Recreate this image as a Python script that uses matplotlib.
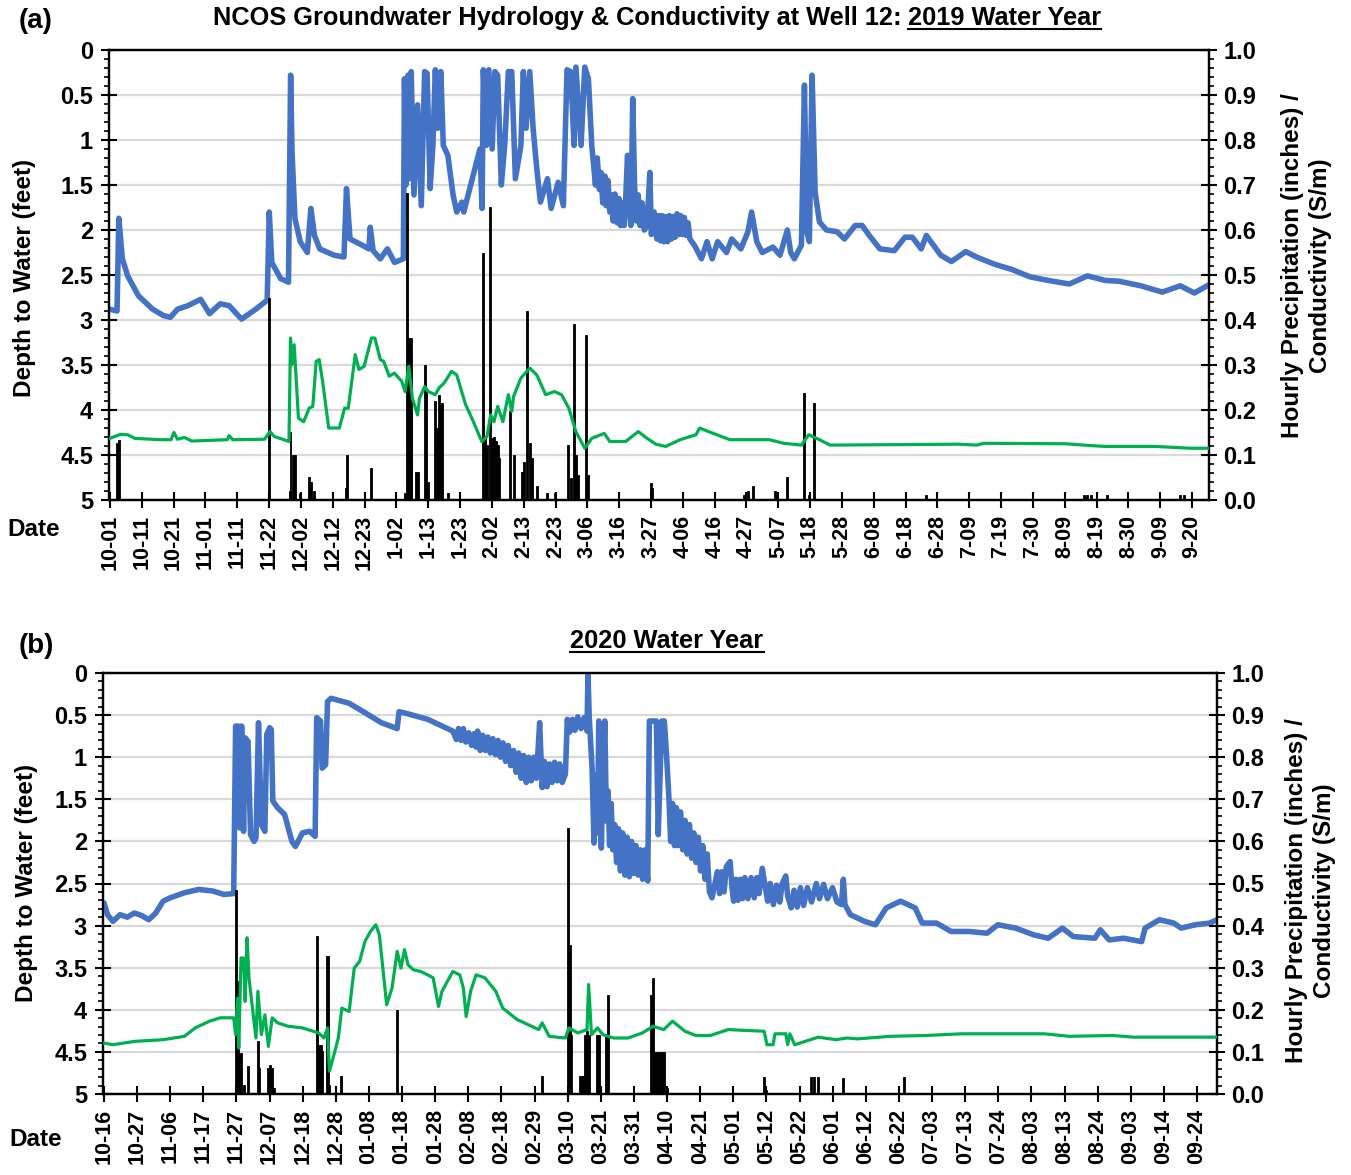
import matplotlib
matplotlib.use("Agg")
import matplotlib.pyplot as plt
from matplotlib.lines import Line2D
from matplotlib.ticker import MultipleLocator, FuncFormatter, FormatStrFormatter

plt.rcParams['font.family'] = ['Liberation Sans', 'DejaVu Sans']
plt.rcParams['font.weight'] = 'bold'

# ---------------- Panel (a): 2019 water year (days since 10-01-2018) ----------------
a_tick_labels = ["10-01", "10-11", "10-21", "11-01", "11-11", "11-22", "12-02", "12-12",
                 "12-23", "1-02", "1-13", "1-23", "2-02", "2-13", "2-23", "3-06", "3-16",
                 "3-27", "4-06", "4-16", "4-27", "5-07", "5-18", "5-28", "6-08", "6-18",
                 "6-28", "7-09", "7-19", "7-30", "8-09", "8-19", "8-30", "9-09", "9-20"]

a_depth_day = [0.0, 2.33, 2.91, 3.49, 4.07, 5.82, 9.31, 13.97, 17.46, 19.79, 22.12, 25.6, 29.69,
               32.6, 36.09, 39.0, 43.07, 47.73, 51.46, 52.15, 52.97, 55.88, 58.44, 59.14, 59.6,
               60.54, 62.28, 64.61, 65.77, 66.94, 68.68, 73.34, 76.6, 77.42, 78.58, 82.65, 84.75,
               85.2, 86.15, 88.48, 90.8, 93.13, 96.04, 96.39, 96.86, 97.56, 98.0, 98.6, 99.5,
               100.7, 101.9, 103.0, 103.8, 104.8, 105.7, 106.5, 107.3, 108.3, 109.1, 110.6,
               112.3, 113.5, 115.2, 115.8, 121.1, 121.8, 122.2, 123.2, 124.0, 125.1, 126.0,
               126.9, 128.1, 129.2, 130.4, 131.5, 132.7, 134.5, 135.3, 136.2, 137.4, 138.5,
               139.7, 140.9, 143.2, 144.4, 146.7, 148.4, 149.6, 150.8, 151.9, 152.5, 154.2,
               155.4, 156.6, 157.7, 158.9, 159.5, 160.2, 160.7, 161.3, 162.0, 162.4, 163.0,
               163.6, 164.1, 164.7, 165.3, 166.0, 166.6, 167.1, 167.7, 168.3, 168.8, 169.4,
               170.0, 170.5, 171.1, 171.7, 172.3, 172.9, 173.5, 174.2, 174.9, 175.8, 176.7,
               177.2, 178.1, 179.0, 179.6, 180.2, 180.7, 181.3, 181.9, 182.5, 183.1, 183.8,
               184.4, 185.0, 185.6, 186.2, 186.8, 187.4, 188.0, 188.6, 189.2, 189.8,
               191.3, 193.6, 195.4, 197.1, 198.9, 201.8, 203.5, 206.5, 208.8,
               210.0, 211.7, 213.5, 217.0, 219.3, 221.7, 222.8, 224.0, 226.3, 227.3, 228.1,
               228.9, 229.8, 230.8, 232.2, 234.5, 238.0, 240.4, 243.9, 246.2, 248.5, 252.0,
               256.7, 260.2, 262.6, 265.5, 267.2, 271.9, 275.4, 280.1, 283.6, 289.5, 295.3,
               301.1, 307.0, 314.0, 319.9, 325.7, 330.4, 337.4, 344.4, 350.3, 354.9, 359.6]
a_depth_ft = [2.88, 2.90, 1.87, 2.10, 2.32, 2.51, 2.73, 2.88, 2.95, 2.97, 2.88, 2.84, 2.77,
              2.93, 2.82, 2.84, 2.99, 2.88, 2.78, 1.80, 2.36, 2.54, 2.58, 0.28, 1.13,
              1.87, 2.13, 2.25, 1.76, 2.06, 2.21, 2.28, 2.30, 1.54, 2.10, 2.17, 2.21,
              1.97, 2.23, 2.32, 2.21, 2.36, 2.32, 0.32, 1.50, 0.28, 1.43, 0.24, 1.61,
              0.61, 1.73, 0.24, 0.26, 1.54, 1.06, 0.22, 0.87, 0.24, 1.06, 1.17,
              1.61, 1.80, 1.69, 1.80, 1.10, 1.76, 0.22, 1.06, 0.22, 1.10, 0.24,
              0.28, 1.50, 1.06, 0.24, 0.24, 1.43, 1.06, 0.24, 0.87, 0.24, 0.87,
              1.32, 1.69, 1.43, 1.76, 1.47, 1.73, 0.22, 0.24, 1.06, 0.19, 1.06,
              0.19, 0.32, 1.06, 1.50, 1.20, 1.55, 1.36, 1.70, 1.40, 1.73, 1.45,
              1.80, 1.61, 1.90, 1.60, 1.92, 1.65, 1.95, 1.70, 1.95, 1.65, 1.17,
              1.73, 1.95, 0.54, 1.50, 1.90, 1.61, 1.95, 1.70, 2.00, 1.95, 1.36,
              2.05, 1.80, 2.10, 1.84, 2.12, 1.84, 2.13, 1.85, 2.13, 1.84, 2.10,
              1.85, 2.08, 1.82, 2.05, 1.84, 2.05, 1.86, 2.06, 1.92, 2.10,
              2.17, 2.32, 2.13, 2.32, 2.13, 2.25, 2.10, 2.21, 2.02,
              1.80, 2.13, 2.25, 2.19, 2.28, 2.00, 2.25, 2.32, 2.17, 0.39, 2.02,
              2.13, 0.28, 1.58, 1.91, 2.00, 2.02, 2.10, 1.95, 1.95, 2.06, 2.21,
              2.23, 2.08, 2.08, 2.21, 2.06, 2.28, 2.35, 2.24, 2.30, 2.38, 2.44,
              2.52, 2.56, 2.60, 2.51, 2.56, 2.57, 2.62, 2.69, 2.62, 2.70, 2.61]

a_cond_day = [0.0, 3.49, 5.82, 8.15, 16.3, 20.0, 20.95, 22.1, 24.4, 26.8, 38.4, 39.0, 40.2,
              50.6, 52.4, 53.8, 57.0, 58.6, 59.1, 59.6, 60.3, 61.7, 63.4, 65.2, 66.4, 67.5,
              68.5, 69.6, 71.6, 75.1, 76.8, 78.0, 80.3, 81.5, 83.2, 85.6, 86.7, 88.5, 89.6,
              91.4, 93.1, 95.5, 96.6, 97.8, 99.0, 100.7, 101.3, 103.0, 104.2, 106.5, 107.7,
              109.4, 111.8, 113.5, 116.4, 118.7, 121.7, 123.4, 124.6, 125.7, 126.9, 128.6,
              130.4, 131.5, 132.1, 134.5, 137.4, 139.7, 142.6, 145.5, 147.8, 150.2, 152.5,
              155.4, 157.7, 161.8, 163.6, 168.8, 172.9, 175.8, 178.7, 181.9, 186.6, 191.8,
              193.0, 195.9, 202.9, 215.8, 220.5, 226.3, 228.7, 232.2, 235.7, 277.8, 283.6,
              286.0, 312.8, 318.7, 325.7, 342.1, 353.8, 359.6]
a_cond_val = [0.137, 0.146, 0.145, 0.137, 0.134, 0.134, 0.150, 0.135, 0.139, 0.131, 0.134,
              0.143, 0.134, 0.135, 0.152, 0.141, 0.134, 0.130, 0.360, 0.301, 0.345, 0.182,
              0.174, 0.204, 0.208, 0.308, 0.312, 0.264, 0.160, 0.160, 0.204, 0.204, 0.323,
              0.290, 0.297, 0.360, 0.360, 0.312, 0.308, 0.275, 0.282, 0.264, 0.241, 0.297,
              0.226, 0.189, 0.226, 0.252, 0.241, 0.234, 0.249, 0.260, 0.286, 0.278, 0.212,
              0.178, 0.130, 0.141, 0.189, 0.174, 0.208, 0.174, 0.234, 0.197, 0.230, 0.271,
              0.293, 0.278, 0.234, 0.241, 0.234, 0.204, 0.152, 0.115, 0.137, 0.148, 0.130,
              0.130, 0.152, 0.137, 0.124, 0.119, 0.134, 0.145, 0.160, 0.152, 0.134, 0.134,
              0.126, 0.122, 0.145, 0.134, 0.122, 0.124, 0.122, 0.126, 0.125, 0.122, 0.119,
              0.119, 0.115, 0.115]

a_rain_day = [2.33, 3.03, 52.15, 58.8, 59.1, 59.8, 60.5, 62.3, 65.2, 65.9, 66.9, 77.1, 77.6,
              85.6, 96.6, 97.2, 97.8, 98.4, 98.7, 100.1, 100.7, 103.0, 103.5, 104.2, 106.5,
              107.1, 107.7, 108.3, 108.8, 110.6, 122.2, 122.8, 123.4, 124.3, 125.1, 125.7,
              126.3, 126.9, 127.5, 131.0, 132.1, 135.0, 135.6, 136.6, 137.4, 138.0, 139.7,
              143.2, 145.5, 149.9, 150.8, 151.9, 152.5, 153.1, 155.8, 156.6, 177.0, 177.5,
              207.6, 208.8, 210.5, 217.6, 218.1, 221.7, 227.3, 228.7, 230.4, 267.2, 318.7,
              319.9, 321.0, 326.3, 350.3, 351.4]
a_rain_in = [0.126, 0.134, 0.449, 0.019, 0.152, 0.100, 0.100, 0.015, 0.052, 0.041, 0.019,
             0.026, 0.100, 0.071, 0.015, 0.683, 0.360, 0.360, 0.226, 0.063, 0.063, 0.301,
             0.249, 0.041, 0.219, 0.160, 0.234, 0.212, 0.215, 0.015, 0.549, 0.137, 0.122,
             0.650, 0.137, 0.141, 0.130, 0.122, 0.093, 0.197, 0.100, 0.063, 0.085, 0.419,
             0.126, 0.093, 0.030, 0.015, 0.015, 0.122, 0.048, 0.390, 0.100, 0.056, 0.367,
             0.056, 0.037, 0.026, 0.011, 0.019, 0.030, 0.019, 0.015, 0.052, 0.238, 0.011,
             0.215, 0.011, 0.011, 0.010, 0.010, 0.010, 0.010, 0.010]

# ---------------- Panel (b): 2020 water year (days since 10-16-2019) ----------------
b_tick_labels = ["10-16", "10-27", "11-06", "11-17", "11-27", "12-07", "12-18", "12-28",
                 "01-08", "01-18", "01-28", "02-08", "02-18", "02-29", "03-10", "03-21",
                 "03-31", "04-10", "04-21", "05-01", "05-12", "05-22", "06-01", "06-12",
                 "06-22", "07-03", "07-13", "07-24", "08-03", "08-13", "08-24", "09-03",
                 "09-14", "09-24"]

b_depth_day = [0.0, 1.12, 2.81, 5.06, 7.31, 9.56, 11.8, 14.1, 16.3, 18.6, 20.8, 25.3, 29.8,
               34.3, 37.7, 40.8, 41.4, 42.2, 42.7, 43.3, 43.9, 44.4, 45.3, 46.1, 47.2, 47.8,
               48.6, 49.5, 50.6, 51.2, 52.1, 52.6, 53.1, 54.6, 56.8, 59.1, 60.2, 62.4, 64.7,
               66.4, 66.9, 68.1, 68.6, 69.7, 70.3, 71.4, 77.1, 81.6, 87.2, 92.2, 92.8, 95.1,
               101.8, 106.3, 109.7, 110.8, 111.5, 112.3, 113.0, 113.8, 114.7, 115.6, 116.4,
               117.0, 117.5, 118.3, 119.1, 119.9, 120.7, 121.5, 122.3, 123.1, 123.9, 124.7,
               125.5, 126.3, 127.1, 127.9, 128.8, 129.6, 130.4, 131.2, 132.0, 132.8, 133.6,
               134.4, 135.2, 136.0, 137.0, 137.8, 138.5, 139.3, 140.1, 140.9, 141.7, 142.5,
               143.3, 144.1, 145.1, 145.7, 146.5, 147.3, 148.1, 149.0, 150.0, 151.0, 151.9,
               152.2, 152.6, 153.5, 154.1, 154.7, 155.2, 155.6, 156.0, 156.4, 156.9, 157.5,
               158.0, 158.5, 159.0, 159.5, 160.0, 160.6, 161.2, 161.8, 162.4, 163.1, 163.8,
               164.5, 165.2, 165.9, 166.6, 167.3, 168.0, 168.7, 169.4, 170.1, 171.0, 171.5,
               173.7, 174.3, 175.4, 176.2, 176.9, 177.7, 178.2, 178.8, 179.4, 180.0, 180.6,
               181.3, 182.0, 182.7, 183.4, 184.1, 184.8, 185.5, 186.2, 186.9, 187.6, 188.3,
               189.0, 189.7, 190.4, 191.2, 192.9, 193.6, 194.3, 195.0, 195.7, 196.9, 197.5,
               198.0, 198.7, 199.4, 200.1, 200.8, 201.5, 202.5, 203.5, 204.5, 205.3, 206.0,
               207.0, 208.7, 209.5, 210.5, 211.5, 212.5, 213.3, 214.4, 215.0, 216.1, 217.0,
               218.0, 219.0, 220.0, 221.2, 222.5, 224.0, 225.0, 226.3, 227.5, 229.1, 230.5,
               231.9, 232.5, 233.0, 234.7, 239.2, 242.6, 246.0, 250.5, 255.1, 257.3, 261.8,
               266.4, 272.0, 277.7, 281.1, 286.7, 292.4, 296.9, 301.4, 304.8, 311.6, 313.3,
               316.1, 320.6, 326.3, 327.4, 331.9, 336.4, 338.7, 343.2, 347.7, 350.0]
b_depth_ft = [2.73, 2.87, 2.95, 2.87, 2.90, 2.85, 2.88, 2.93, 2.85, 2.71, 2.67, 2.61, 2.57,
              2.59, 2.63, 2.62, 0.63, 0.63, 1.84, 0.63, 1.88, 0.77, 0.81, 1.92, 2.00, 1.96,
              0.59, 1.80, 1.88, 0.73, 0.65, 0.67, 1.52, 1.60, 1.68, 2.00, 2.06, 1.90, 1.88,
              1.94, 0.53, 0.57, 1.13, 1.09, 0.34, 0.30, 0.36, 0.46, 0.59, 0.66, 0.46, 0.48,
              0.55, 0.63, 0.69, 0.79, 0.66, 0.80, 0.66, 0.82, 0.71, 0.86, 0.72,
              0.88, 0.69, 0.92, 0.74, 0.92, 0.76, 0.95, 0.78, 0.97, 0.80, 1.00,
              0.83, 1.05, 0.86, 1.10, 0.92, 1.18, 0.95, 1.25, 0.98, 1.30, 1.00,
              1.28, 1.00, 1.25, 0.59, 1.36, 1.05, 1.35, 1.08, 1.30, 1.06, 1.28,
              1.08, 1.30, 1.20, 0.55, 0.70, 0.55, 0.68, 0.52, 0.66, 0.53, 0.69,
              0.00, 0.53, 1.13, 2.02, 1.21, 1.90, 0.57, 1.50, 2.08, 1.20, 0.57,
              1.76, 1.40, 2.05, 1.55, 2.10, 1.80, 2.25, 1.85, 2.35, 1.90, 2.40,
              1.95, 2.42, 2.00, 2.38, 2.05, 2.40, 2.10, 2.45, 2.10, 2.47, 0.57,
              0.57, 1.92, 0.57, 0.57, 0.97, 1.52, 2.00, 1.55, 2.05, 1.60, 2.05,
              1.65, 2.10, 1.75, 2.15, 1.80, 2.20, 1.90, 2.25, 1.95, 2.35, 2.05,
              2.45, 2.15, 2.60, 2.67, 2.36, 2.62, 2.36, 2.60, 2.30, 2.24, 2.55,
              2.71, 2.45, 2.70, 2.45, 2.68, 2.43, 2.68, 2.43, 2.67, 2.43, 2.62,
              2.32, 2.71, 2.50, 2.75, 2.52, 2.72, 2.50, 2.41, 2.65, 2.79, 2.58,
              2.78, 2.55, 2.76, 2.55, 2.72, 2.50, 2.68, 2.51, 2.68, 2.55, 2.72,
              2.75, 2.45, 2.75, 2.87, 2.95, 2.99, 2.79, 2.71, 2.79, 2.97, 2.97,
              3.07, 3.07, 3.09, 2.99, 3.03, 3.11, 3.15, 3.03, 3.13, 3.15, 3.05,
              3.17, 3.15, 3.19, 3.03, 2.93, 2.97, 3.03, 2.99, 2.97, 2.93]

b_cond_day = [0.0, 2.8, 9.6, 18.6, 25.3, 28.7, 33.2, 36.6, 40.8, 41.4, 42.0, 42.4, 43.1, 43.9,
              44.4, 45.0, 45.6, 46.7, 47.8, 48.4, 49.5, 50.6, 51.7, 52.9, 54.6, 57.9, 62.4,
              65.8, 67.5, 69.2, 70.3, 70.9, 72.6, 73.7, 74.8, 77.1, 78.7, 80.4, 82.1, 83.8,
              85.5, 86.6, 87.7, 88.9, 90.6, 92.2, 93.4, 94.5, 95.6, 97.3, 99.6, 101.8, 103.5,
              105.2, 106.3, 109.7, 111.9, 113.0, 113.9, 115.3, 117.0, 119.8, 123.2, 125.4,
              129.9, 136.7, 137.8, 140.0, 145.1, 146.2, 149.0, 151.9, 152.4, 153.3, 155.2,
              156.9, 160.3, 164.8, 169.3, 172.7, 176.0, 178.8, 182.7, 186.1, 190.7, 196.3,
              207.6, 208.5, 210.4, 211.0, 214.4, 215.0, 215.7, 217.2, 224.6, 230.2, 233.6,
              237.0, 247.2, 258.5, 269.8, 295.7, 303.6, 317.2, 323.9, 350.0]
b_cond_val = [0.121, 0.117, 0.125, 0.129, 0.137, 0.157, 0.173, 0.181, 0.181, 0.141, 0.228,
              0.109, 0.323, 0.323, 0.220, 0.371, 0.276, 0.204, 0.133, 0.244, 0.141, 0.188,
              0.113, 0.181, 0.169, 0.161, 0.157, 0.149, 0.145, 0.133, 0.157, 0.054, 0.101,
              0.133, 0.204, 0.196, 0.299, 0.315, 0.363, 0.386, 0.402, 0.378, 0.299, 0.212,
              0.252, 0.339, 0.299, 0.343, 0.307, 0.295, 0.291, 0.283, 0.276, 0.208, 0.244,
              0.291, 0.283, 0.252, 0.184, 0.244, 0.283, 0.276, 0.244, 0.204, 0.177, 0.153,
              0.169, 0.137, 0.133, 0.157, 0.145, 0.153, 0.260, 0.141, 0.157, 0.141, 0.133,
              0.133, 0.145, 0.161, 0.153, 0.173, 0.149, 0.139, 0.139, 0.153, 0.149, 0.117,
              0.117, 0.143, 0.143, 0.117, 0.143, 0.117, 0.135, 0.129, 0.133, 0.131, 0.137,
              0.139, 0.143, 0.143, 0.137, 0.139, 0.135, 0.135]

b_rain_day = [41.4, 42.0, 42.4, 43.1, 43.9, 45.3, 48.4, 48.8, 51.7, 52.3, 52.9, 53.4, 66.9,
              67.5, 68.1, 68.6, 70.3, 70.9, 74.6, 92.2, 137.6, 145.9, 146.6, 147.0, 149.6,
              150.2, 150.7, 151.3, 151.9, 152.6, 155.2, 155.8, 158.0, 158.6, 172.1, 172.7,
              173.2, 173.7, 174.3, 174.9, 175.4, 176.0, 177.1, 207.6, 208.2, 222.3, 223.4,
              224.6, 232.5, 251.7]
b_rain_in = [0.485, 0.268, 0.093, 0.097, 0.022, 0.066, 0.125, 0.062, 0.062, 0.070, 0.062,
             0.014, 0.375, 0.117, 0.117, 0.101, 0.327, 0.022, 0.042, 0.200, 0.042, 0.632,
             0.355, 0.141, 0.042, 0.042, 0.042, 0.141, 0.149, 0.141, 0.141, 0.141, 0.141,
             0.236, 0.236, 0.276, 0.100, 0.100, 0.100, 0.100, 0.100, 0.100, 0.014, 0.040,
             0.010, 0.040, 0.040, 0.040, 0.038, 0.040]

TICK_STEP_DAYS = 250 / 24.0

BLUE = '#4472C4'
GREEN = '#00B050'
GRID = '#D9D9D9'

W, H = 1351, 1175
fig = plt.figure(figsize=(W / 100, H / 100), dpi=100)

XTICK_FS = 15.5
YTICK_FS = 17
LABEL_FS = 17.5


def make_panel(rect, xmax, depth_day, depth_ft, cond_day, cond_val, rain_day, rain_in, labels):
    ax = fig.add_axes(rect)
    ax.plot(depth_day, depth_ft, color=BLUE, lw=4.0, solid_joinstyle='round',
            solid_capstyle='round', zorder=3)
    ax.set_ylim(5, 0)
    ax.set_xlim(-0.3, xmax)
    ax.yaxis.set_major_locator(MultipleLocator(0.5))
    ax.yaxis.set_minor_locator(MultipleLocator(0.1))
    ax.yaxis.set_major_formatter(FuncFormatter(lambda v, p: ('%g' % v)))
    ax.grid(axis='y', which='major', color=GRID, lw=1.6, zorder=0)
    ax.set_axisbelow(True)
    ticks = [k * TICK_STEP_DAYS for k in range(len(labels))]
    ax.set_xticks(ticks)
    ax.set_xticklabels(labels, rotation=90, fontsize=XTICK_FS, fontweight='bold')
    ax.tick_params(axis='x', which='major', direction='inout', length=11, width=1.5, pad=5)
    ax.tick_params(axis='y', which='major', direction='inout', length=11, width=1.5,
                   labelsize=YTICK_FS, pad=6)
    ax.tick_params(axis='y', which='minor', direction='out', length=3.5, width=1.2)
    for lab in ax.get_yticklabels():
        lab.set_fontweight('bold')
    for s in ax.spines.values():
        s.set_linewidth(1.6)

    ax2 = ax.twinx()
    ax2.bar(rain_day, rain_in, width=0.65, color='black', edgecolor='black', lw=0.6, zorder=2)
    ax2.plot(cond_day, cond_val, color=GREEN, lw=2.3, solid_joinstyle='round', zorder=3)
    ax2.set_ylim(0, 1.0)
    ax2.yaxis.set_major_locator(MultipleLocator(0.1))
    ax2.yaxis.set_minor_locator(MultipleLocator(0.02))
    ax2.yaxis.set_major_formatter(FormatStrFormatter('%.1f'))
    ax2.tick_params(axis='y', which='major', direction='inout', length=11, width=1.5,
                    labelsize=YTICK_FS, pad=5)
    ax2.tick_params(axis='y', which='minor', direction='out', length=3.5, width=1.2)
    for lab in ax2.get_yticklabels():
        lab.set_fontweight('bold')
    for s in ax2.spines.values():
        s.set_linewidth(1.6)
    return ax, ax2


axA, axA2 = make_panel([109 / W, 1 - 500 / H, 1100 / W, 450 / H], 359.7,
                       a_depth_day, a_depth_ft, a_cond_day, a_cond_val,
                       a_rain_day, a_rain_in, a_tick_labels)
axB, axB2 = make_panel([103 / W, 1 - 1094 / H, 1114 / W, 421 / H], 350.0,
                       b_depth_day, b_depth_ft, b_cond_day, b_cond_val,
                       b_rain_day, b_rain_in, b_tick_labels)

# axis labels
for xc, yc in ((25, 278), (27, 883)):
    fig.text(xc / W, 1 - yc / H, "Depth to Water (feet)", rotation=90, ha='center',
             va='center', fontsize=LABEL_FS, fontweight='bold')
for yc, x1, x2 in ((266, 1293, 1320), (891, 1297, 1325)):
    fig.text(x1 / W, 1 - yc / H, "Hourly Precipitation (inches) /", rotation=90,
             ha='center', va='center', fontsize=LABEL_FS, fontweight='bold')
    fig.text(x2 / W, 1 - yc / H, "Conductivity (S/m)", rotation=90,
             ha='center', va='center', fontsize=LABEL_FS, fontweight='bold')

fig.text(34 / W, 1 - 530 / H, "Date", ha='center', va='center', fontsize=LABEL_FS,
         fontweight='bold')
fig.text(36 / W, 1 - 1140 / H, "Date", ha='center', va='center', fontsize=LABEL_FS,
         fontweight='bold')
fig.text(36 / W, 1 - 21 / H, "(a)", ha='center', va='center', fontsize=20,
         fontweight='bold')
fig.text(36 / W, 1 - 646 / H, "(b)", ha='center', va='center', fontsize=20,
         fontweight='bold')

# titles with underlined parts
renderer = fig.canvas.get_renderer()


def title_with_underline(plain, underlined, xc, yc, size):
    t1 = fig.text(0, 1 - yc / H, plain, ha='left', va='center', fontsize=size,
                  fontweight='bold')
    t2 = fig.text(0, 1 - yc / H, underlined, ha='left', va='center', fontsize=size,
                  fontweight='bold')
    w1 = t1.get_window_extent(renderer).width if plain else 0.0
    w2 = t2.get_window_extent(renderer).width
    x0 = xc - (w1 + w2) / 2.0
    t1.set_x(x0 / W)
    t2.set_x((x0 + w1) / W)
    bb = t2.get_window_extent(renderer)
    yline = bb.y0 + 1
    fig.add_artist(Line2D([bb.x0 / W, bb.x1 / W], [yline / H, yline / H],
                          transform=fig.transFigure, color='black', lw=1.5))


title_with_underline("NCOS Groundwater Hydrology & Conductivity at Well 12: ",
                     "2019 Water Year", 657, 18, 18.3)
title_with_underline("", "2020 Water Year", 667, 641, 18.3)

fig.savefig("out.png", dpi=100)
